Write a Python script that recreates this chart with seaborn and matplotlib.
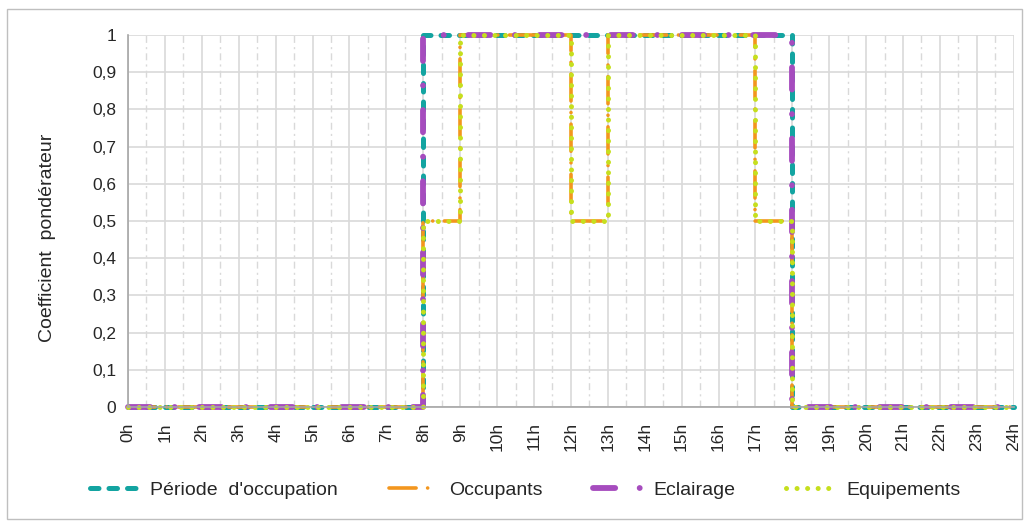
import numpy as np
import pandas as pd
import seaborn as sns
import matplotlib.pyplot as plt
from matplotlib.patches import Rectangle
from matplotlib.ticker import MultipleLocator

# -----------------------------
# Data (step profiles, value holds until next change)
# -----------------------------
hours = [0, 8, 9, 12, 13, 17, 18, 24]
periode = [0, 1, 1, 1, 1, 1, 0, 0]
occupants = [0, 0.5, 1, 0.5, 1, 0.5, 0, 0]
eclairage = [0, 1, 1, 1, 1, 1, 0, 0]
equipements = [0, 0.5, 1, 0.5, 1, 0.5, 0, 0]

series_names = ["Période  d'occupation", "Occupants", "Eclairage", "Equipements"]
y_ticks = [0, 0.1, 0.2, 0.3, 0.4, 0.5, 0.6, 0.7, 0.8, 0.9, 1]
y_labels = ["0", "0,1", "0,2", "0,3", "0,4", "0,5", "0,6", "0,7", "0,8", "0,9", "1"]
x_labels = [f"{h}h" for h in range(25)]

df = pd.DataFrame({"heure": hours,
                   series_names[0]: periode,
                   series_names[1]: occupants,
                   series_names[2]: eclairage,
                   series_names[3]: equipements})

sns.set_style("white")
plt.rcParams['font.family'] = ['Liberation Sans', 'DejaVu Sans']

fig = plt.figure(figsize=(10.24, 5.21), dpi=100)
ax = fig.add_axes([0.125, 0.219, 0.865, 0.714])

# line styles (dash lengths in units of line width)
styles = {
    series_names[0]: dict(color="#13A4A1", lw=3.6, dashes=(1.7, 2.0), dash_capstyle="round"),
    series_names[1]: dict(color="#F3961E", lw=2.6, dashes=(7.5, 3.2, 0.01, 3.2), dash_capstyle="round"),
    series_names[2]: dict(color="#A64CBE", lw=4.2, dashes=(3.8, 4.2, 0.01, 4.2), dash_capstyle="round"),
    series_names[3]: dict(color="#C6DF1E", lw=3.6, dashes=(0.01, 2.1), dash_capstyle="round"),
}

for name in series_names:
    sns.lineplot(data=df, x="heure", y=name, ax=ax, drawstyle="steps-post",
                 label=name, estimator=None, clip_on=False, **styles[name])

ax.set_xlim(0, 24)
ax.set_ylim(0, 1)
ax.set_xticks(range(25))
ax.set_xticklabels(x_labels, rotation=90)
ax.xaxis.set_minor_locator(MultipleLocator(0.5))
ax.set_yticks(y_ticks)
ax.set_yticklabels(y_labels)

ax.grid(which="major", axis="both", color="#D9D9D9", lw=1.2)
ax.grid(which="minor", axis="x", color="#D9D9D9", lw=1.0, ls=(0, (5, 3, 1.5, 3)))
ax.set_axisbelow(True)

for s in ["top", "right"]:
    ax.spines[s].set_visible(False)
for s in ["left", "bottom"]:
    ax.spines[s].set_color("#A6A6A6")
    ax.spines[s].set_linewidth(1.2)

ax.tick_params(axis="both", which="major", direction="out", length=5,
               color="#A6A6A6", labelsize=12.5, labelcolor="#262626")
ax.tick_params(axis="x", which="major", pad=6)
ax.tick_params(axis="x", which="minor", length=0)
ax.set_xlabel("")
ax.set_ylabel("Coefficient  pondérateur", fontsize=14, color="#262626")
ax.yaxis.set_label_coords(-0.081, 0.455)

leg = ax.legend(loc="center", bbox_to_anchor=(0.513, 0.06), bbox_transform=fig.transFigure,
                ncol=4, frameon=False, fontsize=14, handlelength=2.6,
                columnspacing=2.6, handletextpad=0.5)
for t in leg.get_texts():
    t.set_color("#262626")

fig.patches.append(Rectangle((0.007, 0.004), 0.991, 0.979, transform=fig.transFigure,
                             fill=False, edgecolor="#BFBFBF", lw=1))

fig.savefig("out.png", dpi=100)
